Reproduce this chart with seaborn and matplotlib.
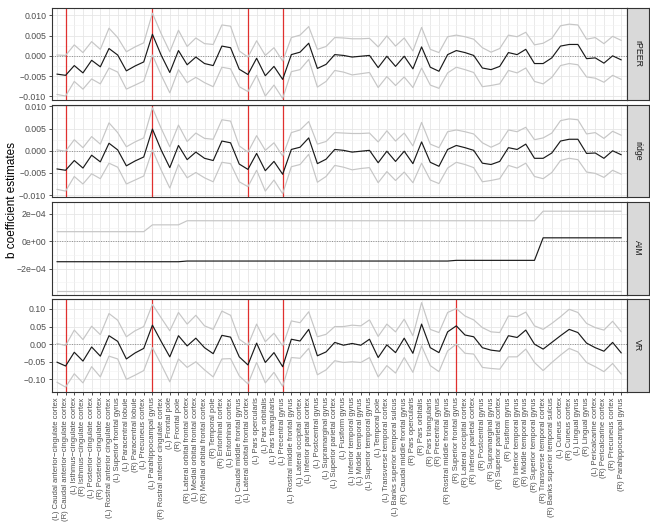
import matplotlib
matplotlib.use("Agg")
import matplotlib.pyplot as plt
from matplotlib.ticker import AutoMinorLocator
import pandas as pd
import seaborn as sns

regions = [
    "(L) Caudal anterior\u2212cingulate cortex", "(R) Caudal anterior\u2212cingulate cortex",
    "(L) Isthmus\u2212cingulate cortex", "(R) Isthmus\u2212cingulate cortex",
    "(L) Posterior\u2212cingulate cortex", "(R) Posterior\u2212cingulate cortex",
    "(L) Rostral anterior cingulate cortex", "(L) Superior frontal gyrus",
    "(L) Paracentral lobule", "(R) Paracentral lobule", "(L) Precuneus cortex",
    "(L) Parahippocampal gyrus", "(R) Rostral anterior cingulate cortex",
    "(L) Frontal pole", "(R) Frontal pole", "(R) Lateral orbital frontal cortex",
    "(L) Medial orbital frontal cortex", "(R) Medial orbital frontal cortex",
    "(R) Temporal pole", "(R) Entorhinal cortex", "(L) Entorhinal cortex",
    "(L) Caudal middle frontal gyrus", "(L) Lateral orbital frontal cortex",
    "(L) Pars opercularis", "(L) Pars orbitalis", "(L) Pars triangularis",
    "(L) Precentral gyrus", "(L) Rostral middle frontal gyrus",
    "(L) Lateral occipital cortex", "(L) Inferior parietal cortex",
    "(L) Postcentral gyrus", "(L) Supramarginal gyrus", "(L) Superior parietal cortex",
    "(L) Fusiform gyrus", "(L) Inferior temporal gyrus", "(L) Middle temporal gyrus",
    "(L) Superior temporal gyrus", "(L) Temporal pole", "(L) Transverse temporal cortex",
    "(L) Banks superior temporal sulcus", "(R) Caudal middle frontal gyrus",
    "(R) Pars opercularis", "(R) Pars orbitalis", "(R) Pars triangularis",
    "(R) Precentral gyrus", "(R) Rostral middle frontal gyrus", "(R) Superior frontal gyrus",
    "(R) Lateral occipital cortex", "(R) Inferior parietal cortex", "(R) Postcentral gyrus",
    "(R) Supramarginal gyrus", "(R) Superior parietal cortex", "(R) Fusiform gyrus",
    "(R) Inferior temporal gyrus", "(R) Middle temporal gyrus", "(R) Superior temporal gyrus",
    "(R) Transverse temporal cortex", "(R) Banks superior temporal sulcus",
    "(L) Cuneus cortex", "(R) Cuneus cortex", "(L) Lingual gyrus", "(R) Lingual gyrus",
    "(L) Pericalcarine cortex", "(R) Pericalcarine cortex", "(R) Precuneus cortex",
    "(R) Parahippocampal gyrus",
]

rpeer_est = [-0.0045, -0.0048, -0.0024, -0.0042, -0.0011, -0.0027, 0.0018, 0.0002, -0.0037, -0.0025,
             -0.0015, 0.0053, 0.0002, -0.0041, 0.0013, -0.0022, -0.0003, -0.0019, -0.0024, 0.0024,
             0.0020, -0.0033, -0.0046, -0.0006, -0.0049, -0.0026, -0.0058, 0.0003, 0.0009, 0.0031,
             -0.0031, -0.0021, 0.0003, 0.0001, -0.0003, -0.0001, 0.0001, -0.0029, -0.0001, -0.0026,
             -0.0001, -0.0032, 0.0022, -0.0028, -0.0038, 0.0003, 0.0013, 0.0008, 0.0001, -0.0030,
             -0.0034, -0.0026, 0.0008, 0.0003, 0.0016, -0.0019, -0.0019, -0.0005, 0.0024, 0.0028,
             0.0028, -0.0007, -0.0005, -0.0018, 0.0000, -0.0010]
rpeer_hi = [0.0002, 0.0001, 0.0027, 0.0008, 0.0035, 0.0016, 0.0068, 0.0045, 0.0010, 0.0022,
            0.0032, 0.0105, 0.0055, 0.0010, 0.0063, 0.0023, 0.0044, 0.0030, 0.0028, 0.0076,
            0.0073, 0.0012, -0.0003, 0.0037, 0.0001, 0.0020, -0.0013, 0.0045, 0.0051, 0.0072,
            0.0016, 0.0023, 0.0045, 0.0044, 0.0042, 0.0042, 0.0043, 0.0022, 0.0049, 0.0024,
            0.0044, 0.0012, 0.0070, 0.0016, 0.0008, 0.0047, 0.0051, 0.0047, 0.0041, 0.0020,
            0.0009, 0.0018, 0.0051, 0.0047, 0.0058, 0.0027, 0.0031, 0.0043, 0.0074, 0.0078,
            0.0076, 0.0041, 0.0045, 0.0030, 0.0048, 0.0038]
rpeer_lo = [-0.0095, -0.0099, -0.0063, -0.0082, -0.0057, -0.0069, -0.0030, -0.0040, -0.0082, -0.0072,
            -0.0062, 0.0002, -0.0047, -0.0091, -0.0034, -0.0066, -0.0053, -0.0066, -0.0076, -0.0028,
            -0.0032, -0.0076, -0.0088, -0.0048, -0.0099, -0.0072, -0.0105, -0.0039, -0.0034, -0.0009,
            -0.0077, -0.0063, -0.0036, -0.0040, -0.0047, -0.0044, -0.0041, -0.0078, -0.0051, -0.0073,
            -0.0052, -0.0078, -0.0030, -0.0072, -0.0080, -0.0042, -0.0028, -0.0034, -0.0041, -0.0076,
            -0.0073, -0.0069, -0.0036, -0.0042, -0.0030, -0.0063, -0.0069, -0.0053, -0.0024, -0.0019,
            -0.0022, -0.0052, -0.0055, -0.0065, -0.0048, -0.0058]

ridge_est = [-0.0041, -0.0044, -0.0022, -0.0039, -0.0010, -0.0025, 0.0017, 0.0002, -0.0034, -0.0023,
             -0.0014, 0.0049, 0.0002, -0.0038, 0.0012, -0.0020, -0.0003, -0.0017, -0.0022, 0.0022,
             0.0018, -0.0030, -0.0042, -0.0006, -0.0045, -0.0024, -0.0053, 0.0003, 0.0008, 0.0029,
             -0.0029, -0.0019, 0.0003, 0.0001, -0.0003, -0.0001, 0.0001, -0.0027, -0.0001, -0.0024,
             -0.0001, -0.0029, 0.0020, -0.0026, -0.0035, 0.0003, 0.0012, 0.0007, 0.0001, -0.0028,
             -0.0031, -0.0024, 0.0007, 0.0003, 0.0015, -0.0017, -0.0017, -0.0005, 0.0022, 0.0026,
             0.0026, -0.0006, -0.0005, -0.0017, 0.0000, -0.0009]
ridge_hi = [0.0002, -0.0001, 0.0025, 0.0007, 0.0032, 0.0015, 0.0063, 0.0041, 0.0009, 0.0020,
            0.0029, 0.0097, 0.0051, 0.0009, 0.0058, 0.0021, 0.0040, 0.0028, 0.0026, 0.0070,
            0.0067, 0.0011, -0.0003, 0.0034, 0.0001, 0.0018, -0.0012, 0.0041, 0.0047, 0.0066,
            0.0015, 0.0021, 0.0041, 0.0040, 0.0039, 0.0039, 0.0040, 0.0020, 0.0045, 0.0022,
            0.0040, 0.0011, 0.0064, 0.0015, 0.0007, 0.0043, 0.0047, 0.0043, 0.0038, 0.0018,
            0.0008, 0.0017, 0.0047, 0.0043, 0.0053, 0.0025, 0.0029, 0.0040, 0.0068, 0.0072,
            0.0070, 0.0038, 0.0041, 0.0028, 0.0044, 0.0035]
ridge_lo = [-0.0087, -0.0091, -0.0058, -0.0075, -0.0052, -0.0063, -0.0028, -0.0037, -0.0075, -0.0066,
            -0.0057, 0.0002, -0.0043, -0.0084, -0.0031, -0.0061, -0.0049, -0.0061, -0.0070, -0.0026,
            -0.0029, -0.0070, -0.0081, -0.0044, -0.0091, -0.0066, -0.0097, -0.0036, -0.0031, -0.0008,
            -0.0071, -0.0058, -0.0033, -0.0037, -0.0043, -0.0040, -0.0038, -0.0072, -0.0047, -0.0067,
            -0.0048, -0.0072, -0.0028, -0.0066, -0.0074, -0.0039, -0.0026, -0.0031, -0.0038, -0.0070,
            -0.0067, -0.0063, -0.0033, -0.0039, -0.0028, -0.0058, -0.0063, -0.0049, -0.0022, -0.0017,
            -0.0020, -0.0048, -0.0051, -0.0060, -0.0044, -0.0053]

aim_est = [-1.5e-4] * 15 + [-1.45e-4] * 31 + [-1.4e-4] * 10 + [0.25e-4] * 10
aim_hi = [0.7e-4] * 11 + [1.2e-4] * 4 + [1.5e-4] * 41 + [2.2e-4] * 10
aim_lo = [-3.65e-4] * 66

vr_est = [-0.051, -0.062, -0.023, -0.048, -0.008, -0.034, 0.024, 0.008, -0.042, -0.025,
          -0.012, 0.054, 0.008, -0.036, 0.024, -0.005, 0.017, -0.010, -0.027, 0.025,
          0.020, -0.036, -0.059, 0.003, -0.052, -0.024, -0.064, 0.014, 0.009, 0.042,
          -0.033, -0.022, 0.005, -0.003, 0.002, -0.003, 0.014, -0.038, -0.002, -0.024,
          0.017, -0.026, 0.057, -0.010, -0.024, 0.035, 0.052, 0.026, 0.021, -0.010,
          -0.017, -0.020, 0.024, 0.019, 0.040, 0.000, -0.014, 0.005, 0.024, 0.042,
          0.033, 0.003, -0.010, -0.020, 0.005, -0.025]
vr_hi = [0.002, -0.004, 0.040, 0.013, 0.051, 0.027, 0.087, 0.068, 0.021, 0.038,
         0.050, 0.113, 0.075, 0.038, 0.090, 0.057, 0.082, 0.052, 0.042, 0.094,
         0.082, 0.014, -0.003, 0.057, 0.007, 0.031, -0.005, 0.066, 0.061, 0.092,
         0.021, 0.028, 0.050, 0.050, 0.054, 0.052, 0.069, 0.022, 0.057, 0.035,
         0.071, 0.024, 0.118, 0.042, 0.033, 0.090, 0.101, 0.080, 0.069, 0.047,
         0.035, 0.033, 0.080, 0.078, 0.091, 0.052, 0.042, 0.059, 0.078, 0.099,
         0.090, 0.059, 0.047, 0.040, 0.065, 0.035]
vr_lo = [-0.108, -0.122, -0.084, -0.110, -0.064, -0.093, -0.034, -0.042, -0.100, -0.088,
         -0.075, -0.010, -0.057, -0.107, -0.042, -0.066, -0.050, -0.073, -0.093, -0.042,
         -0.041, -0.090, -0.113, -0.052, -0.110, -0.080, -0.120, -0.038, -0.040, -0.012,
         -0.087, -0.073, -0.047, -0.052, -0.050, -0.052, -0.038, -0.093, -0.061, -0.082,
         -0.038, -0.080, -0.005, -0.061, -0.078, -0.019, 0.000, -0.026, -0.028, -0.066,
         -0.069, -0.071, -0.036, -0.036, -0.014, -0.052, -0.075, -0.052, -0.031, -0.012,
         -0.022, -0.052, -0.064, -0.078, -0.055, -0.085]

sig_rpeer = [1, 11, 22, 26]
sig_ridge = [1, 11, 22, 26]
sig_aim = []
sig_vr = [1, 11, 22, 26, 46]

panels = [
    ("rPEER", rpeer_est, rpeer_lo, rpeer_hi, sig_rpeer,
     [-0.010, -0.005, 0.0, 0.005, 0.010],
     ["\u22120.010", "\u22120.005", "0.000", "0.005", "0.010"], (-0.0109, 0.0119)),
    ("ridge", ridge_est, ridge_lo, ridge_hi, sig_ridge,
     [-0.010, -0.005, 0.0, 0.005, 0.010],
     ["\u22120.010", "\u22120.005", "0.000", "0.005", "0.010"], (-0.0105, 0.0104)),
    ("AIM", aim_est, aim_lo, aim_hi, sig_aim,
     [-2e-4, 0.0, 2e-4], ["\u22122e\u221204", "0e+00", "2e\u221204"], (-3.9e-4, 2.88e-4)),
    ("VR", vr_est, vr_lo, vr_hi, sig_vr,
     [-0.10, -0.05, 0.0, 0.05, 0.10],
     ["\u22120.10", "\u22120.05", "0.00", "0.05", "0.10"], (-0.135, 0.128)),
]

sns.set_theme(style="white")
plt.rcParams["font.family"] = ["Liberation Sans", "DejaVu Sans"]

W, H = 650, 529
fig = plt.figure(figsize=(6.5, 5.29), dpi=100)

left, right = 51.7, 626.5
top, ph, gap = 7.5, 92.6, 4.6
x = list(range(len(regions)))
palette = {"lo": "#C6C6C6", "hi": "#C6C6C6", "est": "#1A1A1A"}

for k, (name, est, lo, hi, sig, yt, ytl, ylim) in enumerate(panels):
    y0 = top + k * (ph + gap)
    ax = fig.add_axes([left / W, 1 - (y0 + ph) / H, (right - left) / W, ph / H])
    df = pd.DataFrame({
        "idx": x * 3,
        "value": list(lo) + list(hi) + list(est),
        "kind": ["lo"] * len(x) + ["hi"] * len(x) + ["est"] * len(x),
    })
    ax.set_xticks(x)
    ax.set_yticks(yt)
    ax.yaxis.set_minor_locator(AutoMinorLocator(2))
    ax.grid(True, which="major", color="#E6E6E6", lw=0.6, zorder=0)
    ax.grid(True, which="minor", axis="y", color="#F2F2F2", lw=0.4, zorder=0)
    ax.set_axisbelow(True)
    ax.axhline(0, color="#8C8C8C", ls=(0, (1, 1.5)), lw=0.7, zorder=1)
    for s in sig:
        ax.axvline(s, color="#E0302F", lw=0.9, zorder=2)
    sns.lineplot(data=df, x="idx", y="value", hue="kind", units="kind", estimator=None,
                 palette=palette, hue_order=["lo", "hi", "est"], legend=False, ax=ax,
                 lw=0.85, zorder=3)
    ax.set_xlim(-0.6, len(x) - 0.4)
    ax.set_ylim(*ylim)
    ax.set_yticklabels(ytl)
    ax.set_xlabel("")
    ax.set_ylabel("")
    for sp in ax.spines.values():
        sp.set_color("#333333")
        sp.set_linewidth(0.8)
    ax.tick_params(axis="y", which="major", length=2.5, width=0.6, color="#333333",
                   labelsize=6.3, labelcolor="#4D4D4D", pad=1.5, left=True)
    ax.tick_params(axis="y", which="minor", length=0)
    if k == len(panels) - 1:
        ax.set_xticklabels(regions, rotation=90, fontsize=5.5, color="#4D4D4D")
        ax.tick_params(axis="x", length=2.5, width=0.6, color="#333333", pad=1.5, bottom=True)
    else:
        ax.set_xticklabels([])
        ax.tick_params(axis="x", length=0)

    sax = fig.add_axes([(right + 0.5) / W, 1 - (y0 + ph) / H, 21.5 / W, ph / H])
    sax.set_facecolor("#D9D9D9")
    sax.set_xticks([])
    sax.set_yticks([])
    for sp in sax.spines.values():
        sp.set_color("#333333")
        sp.set_linewidth(0.8)
    sax.text(0.5, 0.5, name, rotation=270, ha="center", va="center", fontsize=6.3,
             color="#1A1A1A", transform=sax.transAxes)

mid = top + (4 * ph + 3 * gap) / 2
fig.text(12 / W, 1 - mid / H, "b coefficient estimates", rotation=90, ha="center",
         va="center", fontsize=8.5, color="black")

fig.savefig("out.png", dpi=100)
